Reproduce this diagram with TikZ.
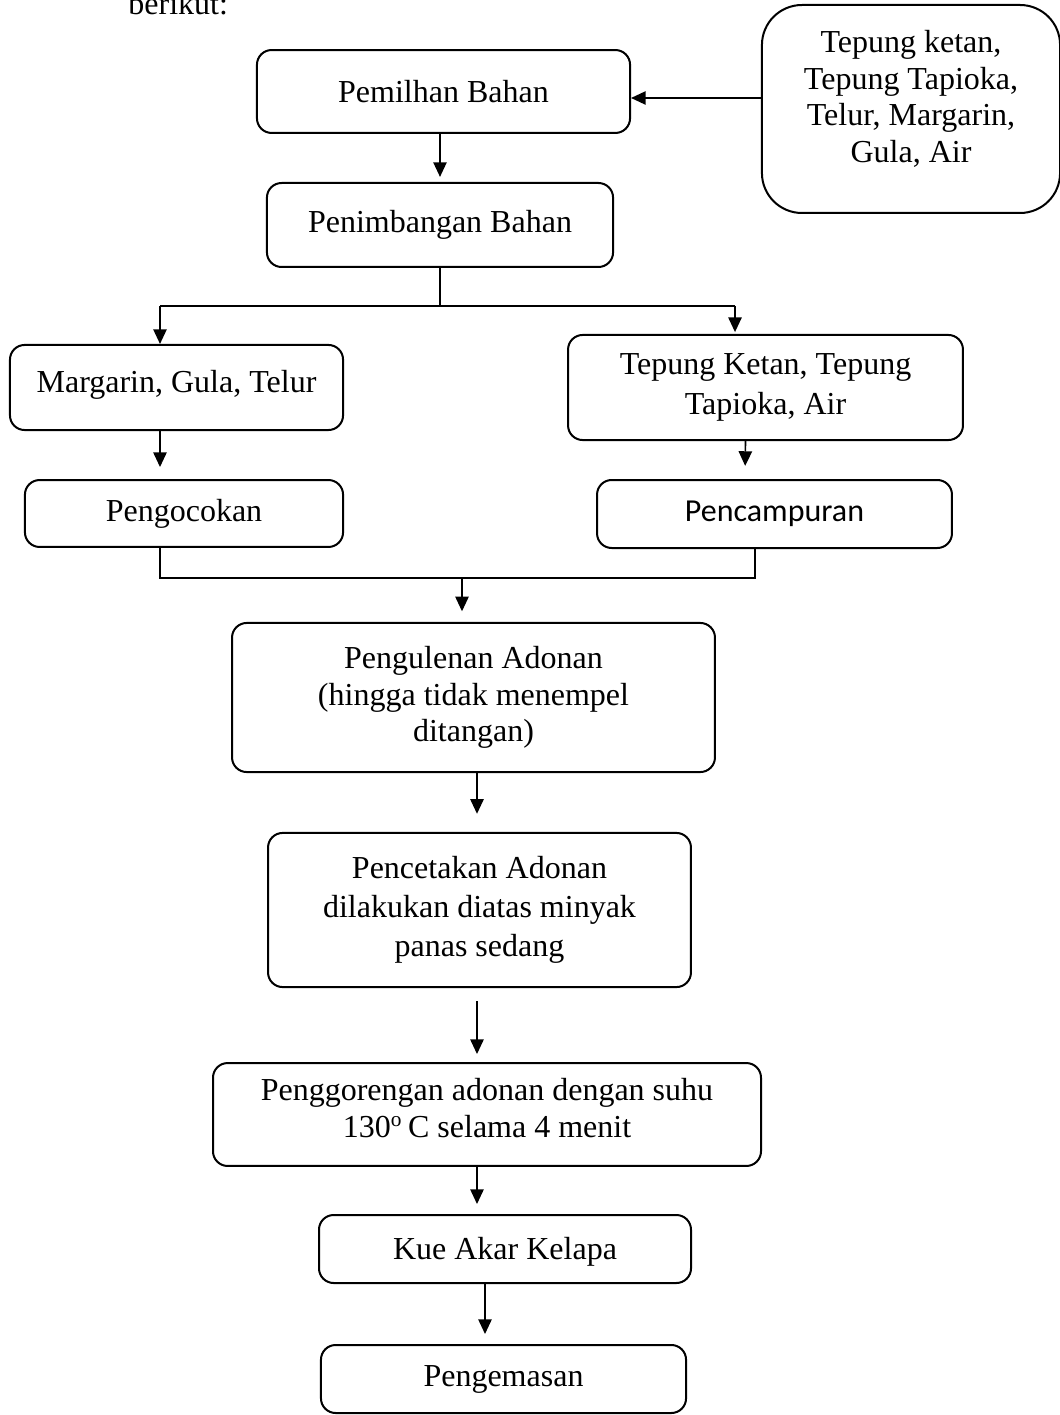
\documentclass[tikz,border=0pt]{standalone}
\usepackage{fontspec}
\setmainfont{Liberation Serif}
\newfontfamily\calibrifont{Carlito}
\usepackage{tikz}
\usetikzlibrary{arrows.meta,positioning,calc}

\begin{document}
\begin{tikzpicture}[
  x=0.375pt,y=-0.375pt,
  font=\fontsize{12}{13.8}\selectfont,
  flow/.style={-{Triangle[length=5.5pt,width=5pt]},draw=black,line width=0.6pt},
  wire/.style={draw=black,line width=0.6pt},
  stepbox/.style={rounded corners=5.5pt,draw=black,line width=0.75pt,
    align=center,inner sep=0pt},
  inbox/.style={rounded corners=15pt,draw=black,line width=0.75pt,
    align=center,inner sep=0pt}
]
  \useasboundingbox (0,0) rectangle (1060,1415);

  \node[anchor=base west] (intro) at (119,15) {berikut:};

  \node[stepbox,minimum width=139.9pt,minimum height=31.1pt] (pemilihan)
    at (443.5,91.5) {Pemilhan Bahan};
  \node[inbox,minimum width=111.8pt,minimum height=78pt,text depth=9.4pt] (bahan)
    at (911,109) {Tepung ketan,\\Tepung Tapioka,\\Telur, Margarin,\\Gula, Air};
  \node[stepbox,minimum width=129.8pt,minimum height=31.5pt] (penimbangan)
    at (440,225) {Penimbangan Bahan};

  \node[stepbox,minimum width=124.9pt,minimum height=31.9pt,text depth=4.9pt] (margarin)
    at (176.5,387.5) {Margarin, Gula, Telur};
  \node[stepbox,minimum width=148.1pt,minimum height=39.4pt,
    font=\fontsize{12}{15}\selectfont] (tepung)
    at (765.5,387.5) {Tepung Ketan, Tepung\\Tapioka, Air};
  \node[stepbox,minimum width=119.3pt,minimum height=25.1pt] (pengocokan)
    at (184,513.5) {Pengocokan};
  \node[stepbox,minimum width=133.1pt,minimum height=25.5pt,font=\calibrifont\fontsize{12}{13.8}\selectfont]
    (pencampuran) at (774.5,514) {Pencampuran};

  \node[stepbox,minimum width=181.1pt,minimum height=55.9pt] (pengulenan)
    at (473.5,697.5) {Pengulenan Adonan\\(hingga tidak menempel\\ditangan)};
  \node[stepbox,minimum width=158.6pt,minimum height=57.8pt,
    font=\fontsize{12}{14.6}\selectfont] (pencetakan)
    at (479.5,910) {Pencetakan Adonan\\dilakukan diatas minyak\\panas sedang};
  \node[stepbox,minimum width=205.5pt,minimum height=38.6pt,text depth=4.7pt] (penggorengan)
    at (487,1114.5) {Penggorengan adonan dengan suhu\\130\textsuperscript{o}\,C selama 4 menit};
  \node[stepbox,minimum width=139.5pt,minimum height=25.5pt,text depth=0.4pt] (kue)
    at (505,1249) {Kue Akar Kelapa};
  \node[stepbox,minimum width=136.9pt,minimum height=25.5pt] (pengemasan)
    at (503.5,1379) {Pengemasan};

  \coordinate (lbus) at (160,306);
  \coordinate (rbus) at (735,306);
  \coordinate (join) at (462,578);

  \draw[flow] (bahan.west |- 0,98) -- (pemilihan.east |- 0,98);
  \draw[flow,shorten >=1.9pt] (penimbangan.north |- pemilihan.south) -- (penimbangan.north);
  \draw[wire] (penimbangan.south) -- (penimbangan.south |- lbus);
  \draw[wire] (lbus) -- (rbus);
  \draw[flow] (lbus) -- (lbus |- margarin.north);
  \draw[flow,shorten >=0.7pt] (rbus) -- (rbus |- tepung.north);
  \draw[flow,shorten >=4.5pt] (margarin.south -| lbus) -- (pengocokan.north -| lbus);
  \draw[flow,shorten >=4.9pt] ($(tepung.south)+(-20,0)$) -- ($(pencampuran.north)+(-29.5,0)$);
  \draw[wire] (pengocokan.south -| lbus) |- (join) -| ($(pencampuran.south)+(-19.5,0)$);
  \draw[flow,shorten >=4pt] (join) -- (join |- pengulenan.north);
  \draw[flow,shorten >=6.8pt] ($(pengulenan.south)+(3.5,0)$) -- ($(pencetakan.north)+(-2.5,0)$);
  \draw[flow,shorten <=4.9pt,shorten >=3pt] ($(pencetakan.south)+(-2.5,0)$) -- ($(penggorengan.north)+(-10,0)$);
  \draw[flow,shorten >=3.75pt] ($(penggorengan.south)+(-10,0)$) -- ($(kue.north)+(-28,0)$);
  \draw[flow,shorten >=3.75pt] ($(kue.south)+(-20,0)$) -- ($(pengemasan.north)+(-18.5,0)$);
\end{tikzpicture}
\end{document}
